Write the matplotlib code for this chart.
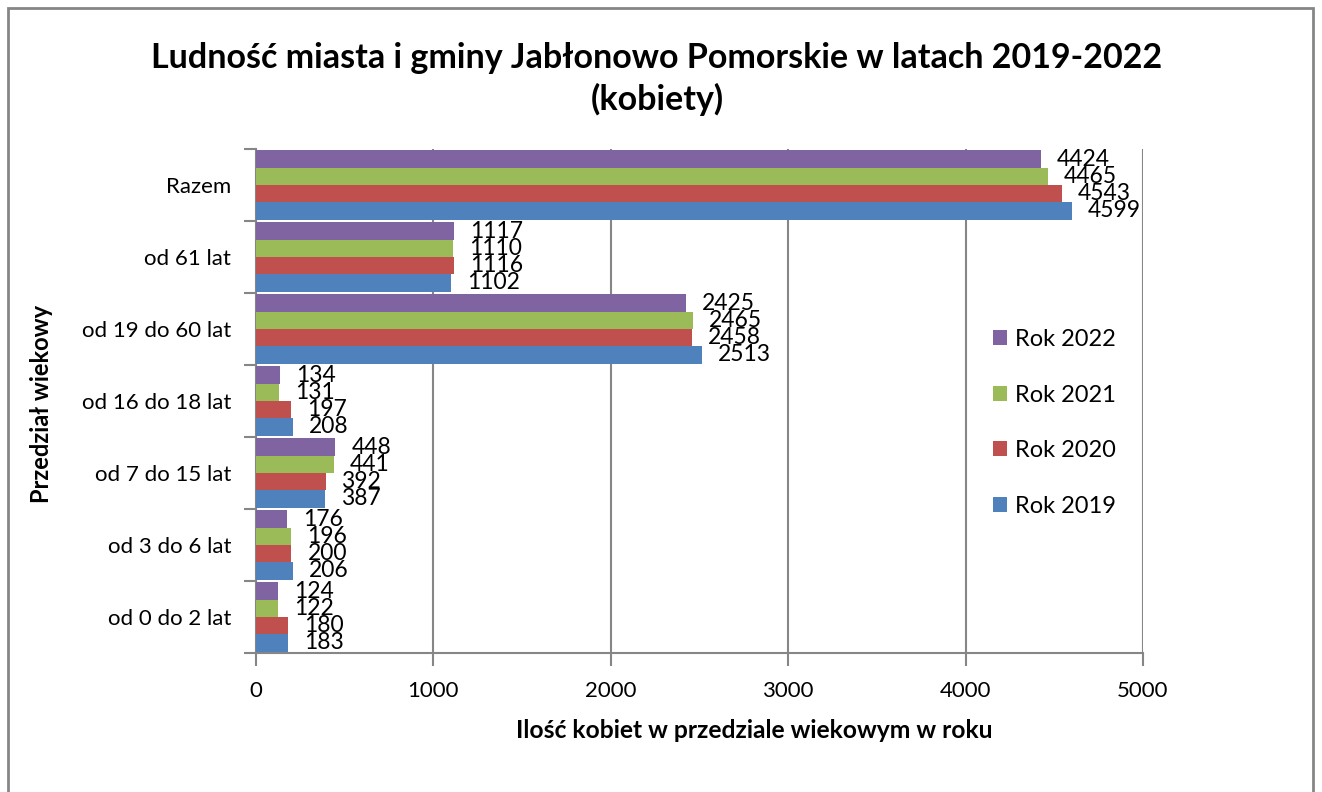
import matplotlib.pyplot as plt
import matplotlib.patches as mpatches
import numpy as np

plt.rcParams['font.family'] = ['Lato', 'DejaVu Sans']

categories = ['od 0 do 2 lat', 'od 3 do 6 lat', 'od 7 do 15 lat', 'od 16 do 18 lat',
              'od 19 do 60 lat', 'od 61 lat', 'Razem']
rok_2019 = [183, 206, 387, 208, 2513, 1102, 4599]
rok_2020 = [180, 200, 392, 197, 2458, 1116, 4543]
rok_2021 = [122, 196, 441, 131, 2465, 1110, 4465]
rok_2022 = [124, 176, 448, 134, 2425, 1117, 4424]
series_names = ['Rok 2019', 'Rok 2020', 'Rok 2021', 'Rok 2022']
colors = ['#4F81BD', '#C0504D', '#9BBB59', '#8064A2']
grey = '#868686'

W, H = 1322, 792
fig = plt.figure(figsize=(W / 100, H / 100), dpi=100)
ax = fig.add_axes([256 / W, 1 - 653 / H, (1143 - 256) / W, (653 - 149) / H])

# outer frame of the chart (bottom edge is cut off)
frame = mpatches.Rectangle((8 / W, -0.1), (1313 - 8) / W, 1.1 - 8 / H,
                           transform=fig.transFigure, fill=False,
                           edgecolor=grey, linewidth=2, clip_on=False)
fig.patches.append(frame)

y = np.arange(len(categories))
bh = 0.24
handles = []
for i, (vals, name, c) in enumerate(zip([rok_2019, rok_2020, rok_2021, rok_2022],
                                         series_names, colors)):
    pos = y + (i - 1.5) * bh
    b = ax.barh(pos, vals, height=bh, color=c, linewidth=0, label=name, zorder=3)
    handles.append(b)
    for p, v in zip(pos, vals):
        ax.annotate(str(v), xy=(v, p), xytext=(11.5, 0), textcoords='offset points',
                    ha='left', va='center', fontsize=16.5, zorder=4)

ax.set_xlim(0, 5000)
ax.set_ylim(-0.5, len(categories) - 0.5)
ax.set_xticks(np.arange(0, 5001, 1000))
ax.set_yticks(np.arange(-0.5, len(categories), 1.0))
ax.set_yticklabels([])
ax.set_yticks(y, minor=True)
ax.set_yticklabels(categories, minor=True)
ax.tick_params(axis='y', which='minor', length=0, pad=18, labelsize=16)
ax.tick_params(axis='y', which='major', length=9, width=1.5, color=grey, direction='out')
ax.tick_params(axis='x', length=9, width=1.5, color=grey, direction='out',
               labelsize=16, pad=11)
ax.grid(axis='x', color=grey, linewidth=1.5, zorder=0)
for s in ['top', 'right']:
    ax.spines[s].set_visible(False)
for s in ['left', 'bottom']:
    ax.spines[s].set_color(grey)
    ax.spines[s].set_linewidth(1.5)

fig.text(754 / W, 1 - 730 / H, 'Ilość kobiet w przedziale wiekowym w roku',
         fontsize=17.7, fontweight='bold', ha='center', va='center')
fig.text(42 / W, 1 - 404 / H, 'Przedział wiekowy', rotation=90, fontsize=17,
         fontweight='bold', ha='center', va='center')
fig.text(657 / W, 1 - 79 / H,
         'Ludność miasta i gminy Jabłonowo Pomorskie w latach 2019-2022\n(kobiety)',
         fontsize=24.5, fontweight='bold', ha='center', va='center', linespacing=1.33)

fig.legend(handles[::-1], series_names[::-1], loc='upper left',
           bbox_to_anchor=(981 / W, 1 - 317 / H), frameon=False, fontsize=17,
           handlelength=0.6, handleheight=0.6, handletextpad=0.34,
           labelspacing=1.47, borderpad=0)

fig.savefig('out.png', dpi=100)
